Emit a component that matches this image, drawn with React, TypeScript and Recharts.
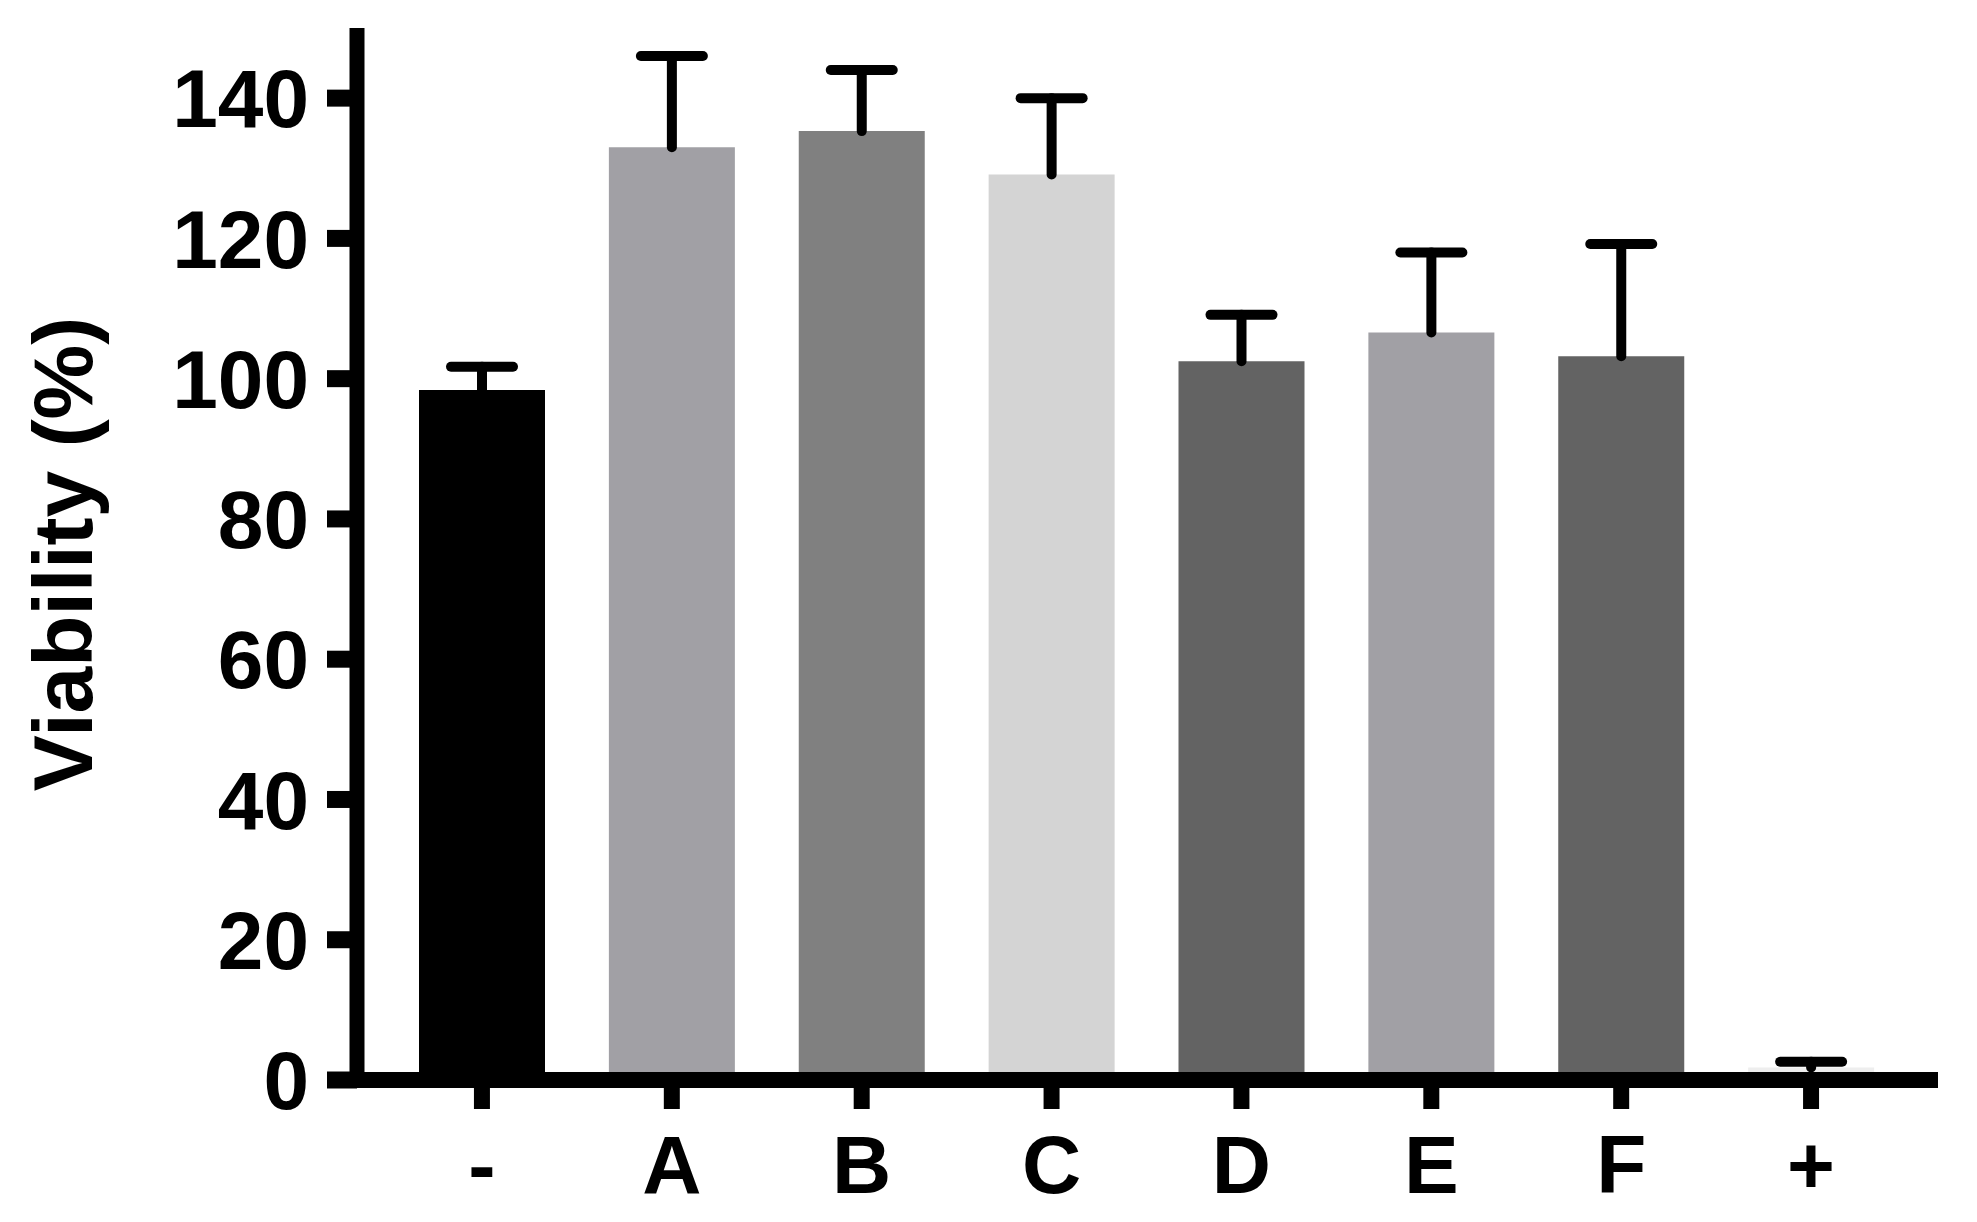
import React from 'react';
import { BarChart, Bar, XAxis, YAxis, ErrorBar, Cell } from 'recharts';

const categories = ['-', 'A', 'B', 'C', 'D', 'E', 'F', '+'];
const viability = [98.4, 133.0, 135.3, 129.1, 102.5, 106.6, 103.2, 1.8];
const errorUp = [3.3, 13.0, 8.7, 10.9, 6.6, 11.4, 16.0, 0.8];
const yTicks = [0, 20, 40, 60, 80, 100, 120, 140];
const barColors = ['#000000', '#a1a0a5', '#808080', '#d4d4d4', '#636363', '#a1a0a5', '#636363', '#eeeeee'];

const data = categories.map((c, i) => ({
  name: c,
  value: viability[i],
  err: [0, errorUp[i]],
}));

const FONT = '"Liberation Sans", Arial, Helvetica, sans-serif';

const YLabel = (props: any) => {
  const vb = props.viewBox || { x: 0, y: 0, width: 0, height: 0 };
  const cx = vb.x + 92;
  const cy = vb.y + vb.height / 2;
  return (
    <text
      x={cx}
      y={cy}
      transform={`rotate(-90, ${cx}, ${cy})`}
      textAnchor="middle"
      fontFamily={FONT}
      fontWeight="bold"
      fontSize={84}
      fill="#000"
    >
      Viability (%)
    </text>
  );
};

export default function App() {
  return (
    <div style={{ position: 'absolute', left: 0, top: 0, background: '#fff' }}>
      <style>{`.recharts-errorBar line:nth-of-type(3){display:none;}`}</style>
      <BarChart
        width={1977}
        height={1222}
        data={data}
        margin={{ top: 28, right: 39, bottom: 0, left: 0 }}
      >
        <XAxis
          dataKey="name"
          height={142}
          padding={{ left: 30, right: 32 }}
          axisLine={{ stroke: '#000', strokeWidth: 16 }}
          tickLine={{ stroke: '#000', strokeWidth: 16 }}
          tickSize={29}
          tickMargin={26}
          tick={{ fill: '#000', fontFamily: FONT, fontWeight: 'bold', fontSize: 82 }}
          interval={0}
        />
        <YAxis
          width={357}
          domain={[0, 150]}
          ticks={yTicks}
          axisLine={{ stroke: '#000', strokeWidth: 15 }}
          tickLine={{ stroke: '#000', strokeWidth: 17 }}
          tickSize={30}
          tickMargin={18}
          tick={{ fill: '#000', fontFamily: FONT, fontWeight: 'bold', fontSize: 82 }}
          label={<YLabel />}
          interval={0}
        />
        <Bar dataKey="value" barSize={126} isAnimationActive={false}>
          {data.map((d, i) => (
            <Cell key={d.name} fill={barColors[i]} />
          ))}
          <ErrorBar
            dataKey="err"
            direction="y"
            width={31}
            stroke="#000"
            strokeWidth={10}
            strokeLinecap="round"
            isAnimationActive={false}
          />
        </Bar>
      </BarChart>
    </div>
  );
}
